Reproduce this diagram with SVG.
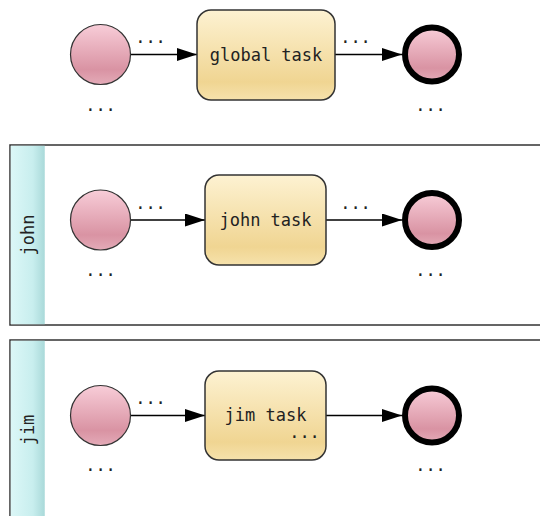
<svg xmlns="http://www.w3.org/2000/svg" width="540" height="516" viewBox="0 0 540 516">
<defs>
<linearGradient id="gCircle" x1="0" y1="0" x2="0" y2="1">
<stop offset="0" stop-color="#f8cdd8"/>
<stop offset="0.75" stop-color="#d993a3"/>
<stop offset="1" stop-color="#e4abb8"/>
</linearGradient>
<linearGradient id="gTask" x1="0" y1="0" x2="0" y2="1">
<stop offset="0" stop-color="#fdf2d2"/>
<stop offset="0.8" stop-color="#f0d592"/>
<stop offset="1" stop-color="#f6e2ac"/>
</linearGradient>
<linearGradient id="gLane" x1="0" y1="0" x2="1" y2="0">
<stop offset="0" stop-color="#dcf7f7"/>
<stop offset="0.65" stop-color="#c8eeee"/>
<stop offset="1" stop-color="#a9d9d9"/>
</linearGradient>
<marker id="arr" markerUnits="userSpaceOnUse" markerWidth="20" markerHeight="13" refX="20" refY="6.5" orient="auto">
<path d="M0,0 L20,6.5 L0,13 z" fill="#000"/>
</marker>
<style>
.start{fill:url(#gCircle);stroke:#333;stroke-width:1.2}
.end{fill:url(#gCircle);stroke:#000;stroke-width:6}
.task{fill:url(#gTask);stroke:#333;stroke-width:1.5}
.pool{fill:#fff;stroke:#333;stroke-width:1.5}
.lane{fill:url(#gLane)}
.conn{stroke:#000;stroke-width:1.5;fill:none;marker-end:url(#arr)}
text{font-family:"DejaVu Sans Mono","Liberation Mono",monospace;font-size:17px;fill:#222}
.lbl{text-anchor:middle}
</style>
</defs>

<g id="pool-john">
<rect class="pool" x="10" y="145" width="540" height="180"/>
<rect class="lane" x="10.75" y="145.75" width="34" height="178.5"/>
<text class="lbl" transform="translate(34,235) rotate(-90)">john</text>
</g>
<g id="pool-jim">
<rect class="pool" x="10" y="340" width="540" height="190"/>
<rect class="lane" x="10.75" y="340.75" width="34" height="188"/>
<text class="lbl" transform="translate(34,430) rotate(-90)">jim</text>
</g>

<g id="connectors">
<line class="conn" x1="130.5" y1="54.5" x2="197" y2="54.5"/>
<line class="conn" x1="335" y1="54.5" x2="402" y2="54.5"/>
<line class="conn" x1="130.5" y1="220" x2="205" y2="220"/>
<line class="conn" x1="326" y1="220" x2="402" y2="220"/>
<line class="conn" x1="130.5" y1="415.5" x2="205" y2="415.5"/>
<line class="conn" x1="326" y1="415.5" x2="402" y2="415.5"/>
<text class="lbl" x="150.5" y="43">...</text>
<text class="lbl" x="355.5" y="43">...</text>
<text class="lbl" x="150.5" y="209">...</text>
<text class="lbl" x="355.5" y="209">...</text>
<text class="lbl" x="150.5" y="404">...</text>
</g>

<g id="start-global">
<circle class="start" cx="100.5" cy="54.5" r="30"/>
<text class="lbl" x="100.5" y="111">...</text>
</g>
<g id="task-global">
<rect class="task" x="197" y="10" width="138" height="90" rx="14"/>
<text class="lbl" x="266" y="61">global task</text>
</g>
<g id="end-global">
<circle class="end" cx="432" cy="54.5" r="27"/>
<text class="lbl" x="430.5" y="111">...</text>
</g>

<g id="start-john">
<circle class="start" cx="100.5" cy="220" r="30"/>
<text class="lbl" x="100.5" y="276">...</text>
</g>
<g id="task-john">
<rect class="task" x="205" y="175" width="121" height="90" rx="14"/>
<text class="lbl" x="265.5" y="226">john task</text>
</g>
<g id="end-john">
<circle class="end" cx="432" cy="220" r="27"/>
<text class="lbl" x="430.5" y="276">...</text>
</g>

<g id="start-jim">
<circle class="start" cx="100.5" cy="415.5" r="30"/>
<text class="lbl" x="100.5" y="471">...</text>
</g>
<g id="task-jim">
<rect class="task" x="205" y="371" width="121" height="89" rx="14"/>
<text class="lbl" x="265.5" y="421">jim task</text>
<text class="lbl" x="304.5" y="438">...</text>
</g>
<g id="end-jim">
<circle class="end" cx="432" cy="415.5" r="27"/>
<text class="lbl" x="430.5" y="471">...</text>
</g>
</svg>
